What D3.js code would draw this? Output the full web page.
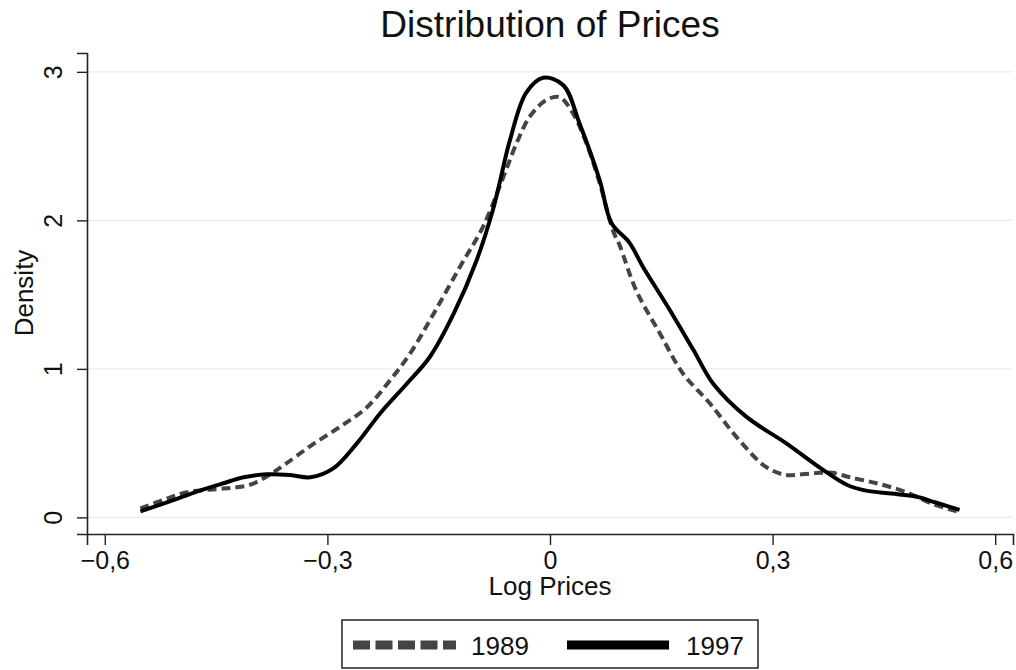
<!DOCTYPE html>
<html>
<head>
<meta charset="utf-8">
<script src="https://cdn.jsdelivr.net/npm/d3@7"></script>
<style>
  body { margin: 0; background: #fff; }
  svg { display: block; font-family: "Liberation Sans", Arial, sans-serif; }
</style>
</head>
<body>
<script>
// kernel density estimates, [log price, density]
const density1989 = [
    [-0.552, 0.06], [-0.52, 0.12], [-0.489, 0.17], [-0.45, 0.19], [-0.427, 0.2],
    [-0.404, 0.22], [-0.38, 0.28], [-0.359, 0.35], [-0.323, 0.48], [-0.283, 0.61],
    [-0.247, 0.74], [-0.216, 0.92], [-0.189, 1.1], [-0.157, 1.37], [-0.121, 1.69],
    [-0.09, 1.96], [-0.063, 2.29], [-0.045, 2.52], [-0.027, 2.7], [-0.005, 2.81],
    [0.013, 2.83], [0.031, 2.72], [0.049, 2.52], [0.067, 2.25], [0.085, 1.93],
    [0.094, 1.83], [0.116, 1.53], [0.148, 1.24], [0.179, 0.97], [0.215, 0.77],
    [0.255, 0.52], [0.291, 0.34], [0.318, 0.285], [0.34, 0.29], [0.363, 0.3],
    [0.381, 0.3], [0.404, 0.27], [0.44, 0.23], [0.48, 0.17], [0.516, 0.09],
    [0.549, 0.04]
]
const density1997 = [
    [-0.552, 0.04], [-0.5, 0.13], [-0.472, 0.18], [-0.44, 0.23], [-0.413, 0.27],
    [-0.382, 0.29], [-0.35, 0.285], [-0.323, 0.27], [-0.292, 0.33], [-0.26, 0.5],
    [-0.229, 0.7], [-0.193, 0.9], [-0.162, 1.08], [-0.13, 1.37], [-0.099, 1.73],
    [-0.077, 2.07], [-0.068, 2.25], [-0.054, 2.54], [-0.032, 2.86], [-0.009, 2.96],
    [0.018, 2.91], [0.04, 2.65], [0.067, 2.27], [0.083, 1.98], [0.107, 1.85],
    [0.125, 1.69], [0.161, 1.4], [0.193, 1.13], [0.22, 0.9], [0.264, 0.68],
    [0.318, 0.5], [0.368, 0.32], [0.4, 0.22], [0.426, 0.18], [0.46, 0.16],
    [0.493, 0.14], [0.52, 0.1], [0.552, 0.05]
]
const xTicks = [-0.6, -0.3, 0, 0.3, 0.6]
const yTicks = [0, 1, 2, 3]
const seriesNames = ["1989", "1997"]

const width = 1016
const height = 670

const svg = d3.select("body").append("svg")
    .attr("width", width)
    .attr("height", height)

const x = d3.scaleLinear().domain([-0.624, 0.624]).range([87, 1013])
const y = d3.scaleLinear().domain([-0.112, 3.127]).range([534, 53])

const locale = d3.formatLocale({ decimal: ",", thousands: ".", grouping: [3], currency: ["", ""], minus: "\u2212" })
const fmt = locale.format(".1f")

// grid
svg.append("g")
    .selectAll("line")
    .data(yTicks)
    .enter()
    .append("line")
    .attr("x1", x.range()[0])
    .attr("x2", x.range()[1])
    .attr("y1", d => y(d))
    .attr("y2", d => y(d))
    .attr("stroke", "#ececec")
    .attr("stroke-width", 1.2)

// x axis
const xAxis = svg.append("g")
    .attr("transform", `translate(0,${y.range()[0]})`)
    .call(d3.axisBottom(x).tickValues(xTicks).tickSize(11).tickPadding(6)
        .tickFormat(d => d === 0 ? "0" : fmt(d)))
xAxis.select(".domain").attr("stroke", "#222").attr("stroke-width", 1.6)
xAxis.selectAll(".tick line").attr("stroke", "#222").attr("stroke-width", 1.4)
xAxis.selectAll("text").attr("font-size", 25).attr("fill", "#111")

// y axis
const yAxis = svg.append("g")
    .attr("transform", `translate(${x.range()[0]},0)`)
    .call(d3.axisLeft(y).tickValues(yTicks).tickSize(10).tickFormat(d3.format("d")))
yAxis.select(".domain").attr("stroke", "#222").attr("stroke-width", 1.6)
yAxis.selectAll(".tick line").attr("stroke", "#222").attr("stroke-width", 1.4)
yAxis.selectAll("text")
    .attr("font-size", 25)
    .attr("fill", "#111")
    .attr("x", null)
    .attr("dy", null)
    .attr("text-anchor", "middle")
    .attr("transform", "translate(-25,0) rotate(-90)")

// density curves
const line = d3.line()
    .x(d => x(d[0]))
    .y(d => y(d[1]))
    .curve(d3.curveCatmullRom.alpha(0.5))

svg.append("path")
    .datum(density1989)
    .attr("d", line)
    .attr("fill", "none")
    .attr("stroke", "#444")
    .attr("stroke-width", 4)
    .attr("stroke-dasharray", "9,5")
    .attr("stroke-linejoin", "round")

svg.append("path")
    .datum(density1997)
    .attr("d", line)
    .attr("fill", "none")
    .attr("stroke", "#000")
    .attr("stroke-width", 4)
    .attr("stroke-linejoin", "round")

// titles
svg.append("text")
    .attr("x", 550)
    .attr("y", 37)
    .attr("text-anchor", "middle")
    .attr("font-size", 37)
    .attr("fill", "#111")
    .text("Distribution of Prices")

svg.append("text")
    .attr("x", 550)
    .attr("y", 595)
    .attr("text-anchor", "middle")
    .attr("font-size", 26)
    .attr("fill", "#111")
    .text("Log Prices")

svg.append("text")
    .attr("transform", "translate(33,293) rotate(-90)")
    .attr("text-anchor", "middle")
    .attr("font-size", 26)
    .attr("fill", "#111")
    .text("Density")

// legend
const legend = svg.append("g")
legend.append("rect")
    .attr("x", 342)
    .attr("y", 620)
    .attr("width", 416)
    .attr("height", 48)
    .attr("fill", "#fff")
    .attr("stroke", "#222")
    .attr("stroke-width", 1.5)

legend.append("line")
    .attr("x1", 353).attr("x2", 456)
    .attr("y1", 645).attr("y2", 645)
    .attr("stroke", "#444")
    .attr("stroke-width", 9)
    .attr("stroke-dasharray", "17,5.5")

legend.append("line")
    .attr("x1", 567).attr("x2", 669)
    .attr("y1", 645).attr("y2", 645)
    .attr("stroke", "#000")
    .attr("stroke-width", 9)

legend.selectAll("text.lab")
    .data(seriesNames)
    .enter()
    .append("text")
    .attr("class", "lab")
    .attr("x", (d, i) => i === 0 ? 471 : 686)
    .attr("y", 655)
    .attr("font-size", 26)
    .attr("fill", "#111")
    .text(d => d)
</script>
</body>
</html>
